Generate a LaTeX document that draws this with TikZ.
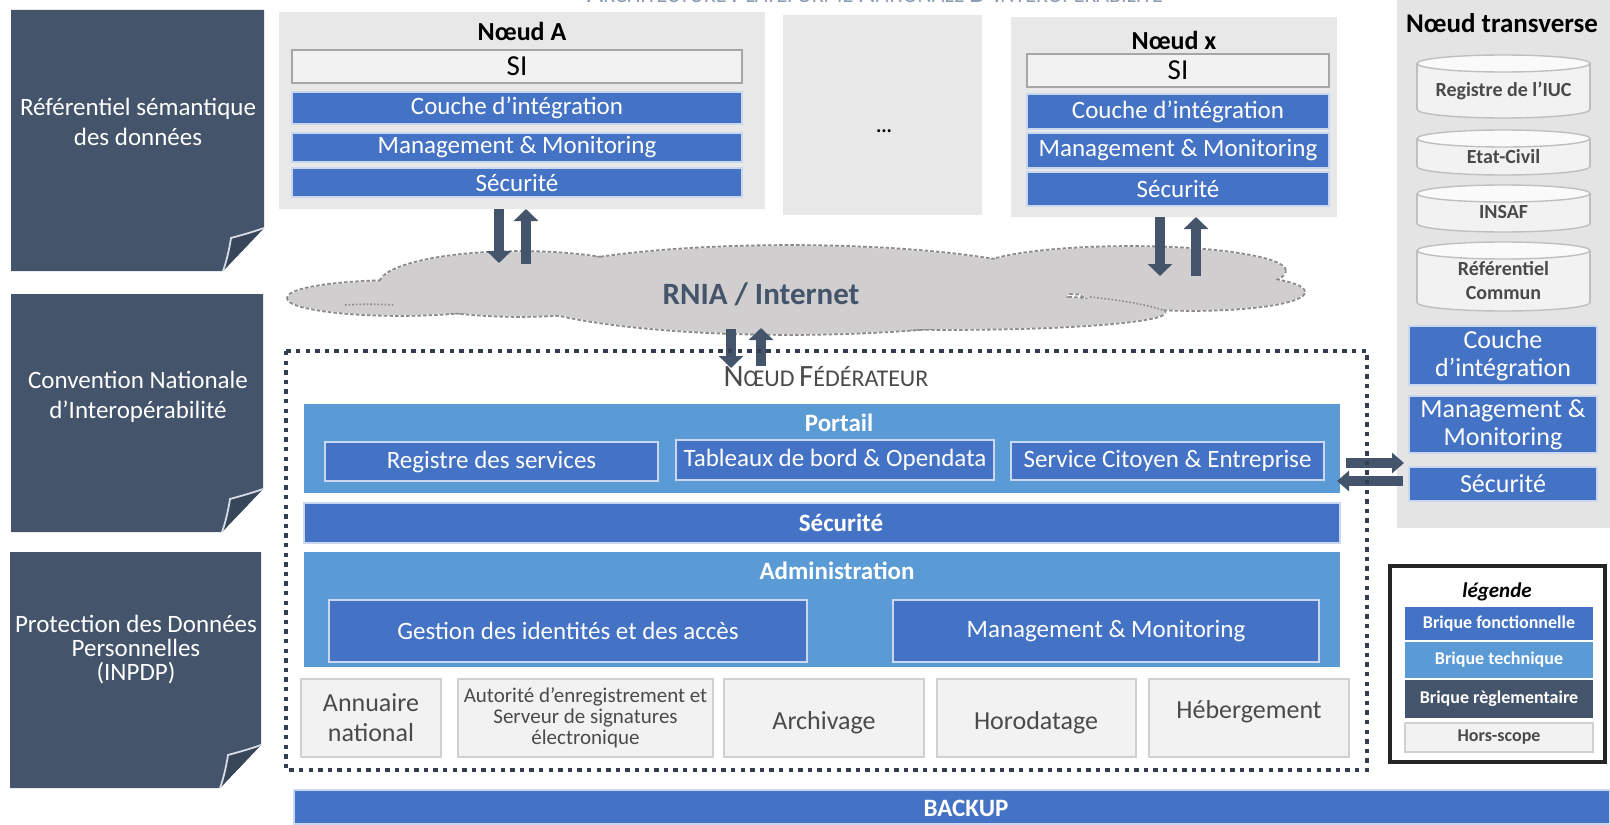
\documentclass[tikz,border=0pt]{standalone}
\usepackage{fontspec}
\setmainfont{Carlito}
\usetikzlibrary{arrows.meta}
\definecolor{cFblue}{HTML}{4472C4}
\definecolor{cTblue}{HTML}{5B9BD5}
\definecolor{cSlate}{HTML}{44546A}
\definecolor{cFold}{HTML}{38465A}
\definecolor{cFoldLine}{HTML}{D5DCE6}
\definecolor{cNgray}{HTML}{E8E8E8}
\definecolor{cTgray}{HTML}{E4E4E4}
\definecolor{cHs}{HTML}{F2F2F2}
\definecolor{cHsLine}{HTML}{D0D0D0}
\definecolor{cSiLine}{HTML}{A6A6A6}
\definecolor{cCloud}{HTML}{D0CECE}
\definecolor{cCloudLine}{HTML}{8A8A8A}
\definecolor{cTxt}{HTML}{4A4A4A}
\definecolor{cArrow}{HTML}{44546A}
\definecolor{cDot}{HTML}{333F50}
\definecolor{cTitle}{HTML}{8C9BB0}
\definecolor{cFline}{HTML}{C9D7F0}
\definecolor{cCyl}{HTML}{BFBFBF}
\newcommand\fs[2]{\fontsize{#1}{#2}\selectfont}
% style, name, x1, y1, x2, y2, text  (pixel coordinates, y downwards)
\newcommand\mkbox[7]{\node[#1, minimum width={(#5-#3)*0.5pt}, minimum height={(#6-#4)*0.5pt}] (#2) at ({(#3+#5)/2},{(#4+#6)/2}) {#7};}
\newcommand\panel[5]{%
  \mkbox{bx}{#1}{#2}{#3}{#4}{#5}{}
  \fill[cSlate] (#1.north west) -- (#1.north east) -- ([yshift=21.5pt]#1.south east)
     -- ([xshift=-20.5pt]#1.south east) -- (#1.south west) -- cycle;
  \filldraw[fill=cFold, draw=cFoldLine, line width=0.9pt]
     ([yshift=21.5pt]#1.south east) .. controls ([xshift=-7pt,yshift=19pt]#1.south east) and ([xshift=-13pt,yshift=17.5pt]#1.south east) .. ([xshift=-16.5pt,yshift=16.5pt]#1.south east)
     .. controls ([xshift=-17.5pt,yshift=10pt]#1.south east) and ([xshift=-19pt,yshift=4pt]#1.south east) .. ([xshift=-20.5pt]#1.south east);
}
\newcommand\cylinder[6]{%
  \mkbox{bx}{#1}{#2}{#3}{#4}{#5}{}
  \filldraw[cylst] ([yshift=4.25pt]#1.south) ellipse [x radius=43.25pt, y radius=4.25pt];
  \fill[cHs] ([yshift=-4.25pt]#1.north west) rectangle ([yshift=4.25pt]#1.south east);
  \draw[cylst] ([yshift=-4.25pt]#1.north west) -- ([yshift=4.25pt]#1.south west)
               ([yshift=-4.25pt]#1.north east) -- ([yshift=4.25pt]#1.south east);
  \filldraw[cylst, fill=white!60!cHs] ([yshift=-4.25pt]#1.north) ellipse [x radius=43.25pt, y radius=4.25pt];
  \node[cyltxt] (#1t) at ([yshift=-2pt]#1.center) {#6};
}
\begin{document}
\begin{tikzpicture}[x=0.5pt,y=-0.5pt,
  bx/.style={inner sep=0pt,outer sep=0pt,align=center},
  func/.style={bx,fill=cFblue,text=white,draw=cFline,line width=0.7pt,font=\fs{12.5}{14.5}},
  tech/.style={bx,fill=cTblue},
  lgray/.style={bx,fill=cNgray},
  sibox/.style={bx,fill=cHs,draw=cSiLine,line width=0.8pt,font=\fs{14.5}{16}},
  hsbox/.style={bx,fill=cHs,draw=cHsLine,line width=0.8pt,text=cTxt,font=\fs{12.5}{14.5}},
  hstxt/.style={text=cTxt,font=\fs{13}{15}},
  ttl/.style={font=\fs{13}{15}\bfseries},
  wtl/.style={text=white,font=\fs{12.5}{15}\bfseries},
  ptxt/.style={text=white,align=center,font=\fs{12.5}{15}},
  blk/.style={draw=cArrow,line width=5pt,-{Triangle[width=12pt,length=6pt]}},
  blkh/.style={draw=cArrow,line width=5pt,-{Triangle[width=10pt,length=6pt]}},
  cloudline/.style={draw=cCloudLine,densely dotted,line width=1.8pt},
  cloudfill/.style={fill=cCloud},
  cylst/.style={fill=cHs,draw=cCyl,line width=0.7pt},
  cyltxt/.style={text=cTxt,align=center,font=\fs{10}{12}\bfseries},
  legi/.style={bx,text=white,font=\fs{9}{10}\bfseries},
]
\useasboundingbox (0,0) rectangle (1610,824);

% top (cut) title
\node[anchor=base, text=cTitle, inner sep=0pt] (title) at (875,3)
  {{\fs{14}{14}A}{\fs{11}{11}RCHITECTURE} {\fs{14}{14}P}{\fs{11}{11}LATEFORME} {\fs{14}{14}N}{\fs{11}{11}ATIONALE} {\fs{14}{14}D’I}{\fs{11}{11}NTEROPÉRABILITÉ}};

% left regulatory panels
\panel{p1}{11}{10}{264}{271}
\node[ptxt] (p1t) at (138,122) {Référentiel sémantique\\des données};
\panel{p2}{11}{294}{263}{532}
\node[ptxt] (p2t) at (138,397) {Convention Nationale\\d’Interopérabilité};
\panel{p3}{10}{552}{261}{788}
\node[ptxt, font=\fs{12.5}{12}] (p3t) at (136,650) {Protection des Données\\Personnelles\\(INPDP)};

% Noeud A
\mkbox{lgray}{nA}{279}{12}{765}{209}{}
\node[ttl] (nAt) at (522,31) {Nœud A};
\mkbox{sibox}{nAsi}{292}{50}{742}{83}{SI}
\mkbox{func}{nAci}{292}{92}{742}{124}{Couche d’intégration}
\mkbox{func}{nAmm}{292}{133}{742}{162}{Management \& Monitoring}
\mkbox{func}{nAsec}{292}{168}{742}{197}{Sécurité}

% dots box
\mkbox{lgray}{nD}{783}{15}{982}{215}{}
\node[font=\fs{10}{10}\bfseries] (nDt) at (884,131) {...};

% Noeud x
\mkbox{lgray}{nX}{1011}{17}{1337}{217}{}
\node[ttl] (nXt) at (1174,40) {Nœud x};
\mkbox{sibox}{nXsi}{1027}{54}{1329}{87}{SI}
\mkbox{func}{nXci}{1027}{94}{1329}{129}{Couche d’intégration}
\mkbox{func}{nXmm}{1027}{133}{1329}{168}{Management \& Monitoring}
\mkbox{func}{nXsec}{1027}{172}{1329}{206}{Sécurité}

% Noeud transverse
\mkbox{bx, fill=cTgray}{nT}{1397}{0}{1610}{528}{}
\node[font=\fs{13.5}{15}\bfseries] (nTt) at (1502,23) {Nœud transverse};
\cylinder{cy1}{1417}{55}{1590}{118}{Registre de l’IUC}
\cylinder{cy2}{1417}{130}{1590}{175}{Etat-Civil}
\cylinder{cy3}{1417}{185}{1590}{232}{INSAF}
\cylinder{cy4}{1417}{242}{1590}{311}{Référentiel\\Commun}
\mkbox{func, font=\fs{13}{14}}{nTci}{1409}{326}{1597}{385}{Couche\\d’intégration}
\mkbox{func, font=\fs{13}{14}}{nTmm}{1409}{396}{1597}{453}{Management \&\\Monitoring}
\mkbox{func, font=\fs{13}{14}}{nTsec}{1409}{467}{1597}{501}{Sécurité}

% cloud: dotted outlines first, fills on top so only the outer contour stays
\foreach \cx/\cy/\rx/\ry in {400/298/56/8.5, 520/284/70/16, 950/312/107.5/8.5, 790/290/140/22, 1130/271/77.5/12, 1192/292/56/9}
  \draw[cloudline] (\cx,\cy) ellipse [x radius=\rx pt, y radius=\ry pt];
\foreach \cx/\cy/\rx/\ry in {400/298/56/8.5, 520/284/70/16, 950/312/107.5/8.5, 790/290/140/22, 1130/271/77.5/12, 1192/292/56/9}
  \fill[cloudfill] (\cx,\cy) ellipse [x radius=\rx pt, y radius=\ry pt];
\draw[draw=cCloudLine, densely dotted, line width=0.8pt] (345,305) .. controls (360,304) and (380,304) .. (395,305);
\draw[draw=cCloudLine, densely dotted, line width=0.8pt] (1090,297) .. controls (1120,300) and (1150,305) .. (1165,311);
\node[text=cSlate, font=\fs{15.5}{17}\bfseries] (cloud) at (761,294) {RNIA / Internet};

% vertical arrows
\coordinate (aAd) at (499,263);
\coordinate (aAu) at (526,264);
\draw[blk] (nA.south -| aAd) -- (aAd);
\draw[blk] (aAu) -- (nA.south -| aAu);
\coordinate (aXd) at (1160,276);
\coordinate (aXu) at (1196,276);
\draw[blk] (nX.south -| aXd) -- (aXd);
\draw[blk] (aXu) -- (nX.south -| aXu);
\coordinate (fd1) at (731,329);
\coordinate (fd2) at (731,368);
\coordinate (fu1) at (761,366);
\coordinate (fu2) at (761,328);
\draw[blk] (fd1) -- (fd2);
\draw[blk] (fu1) -- (fu2);

% federateur
\mkbox{bx}{fed}{286}{351}{1367}{770}{}
\node[text=cTxt] (fedt) at (826,377)
  {{\fs{15.5}{16}N}{\fs{12}{14}ŒUD} {\fs{15.5}{16}F}{\fs{12}{14}ÉDÉRATEUR}};
\mkbox{tech}{port}{304}{404}{1340}{493}{}
\node[wtl] (portt) at (839,423) {Portail};
\mkbox{func}{reg}{325}{442}{658}{481}{Registre des services}
\mkbox{func}{tab}{676}{440}{994}{480}{Tableaux de bord \& Opendata}
\mkbox{func}{svc}{1011}{442}{1324}{480}{Service Citoyen \& Entreprise}
\mkbox{func}{fsec}{304}{503}{1340}{543}{}
\node[wtl] (fsect) at (841,523) {Sécurité};
\mkbox{tech}{adm}{304}{552}{1340}{667}{}
\node[wtl] (admt) at (837,571) {Administration};
\mkbox{func, font=\fs{12.5}{15}}{gia}{329}{600}{807}{662}{Gestion des identités et des accès}
\mkbox{func, font=\fs{12.5}{15}}{amm}{893}{600}{1319}{662}{Management \& Monitoring}
\mkbox{hsbox, font=\fs{13}{15}}{ann}{301}{679}{441}{757}{Annuaire\\national}
\mkbox{hsbox, font=\fs{10.5}{10.5}}{aut}{458}{679}{713}{757}{Autorité d’enregistrement et\\Serveur de signatures\\électronique}
\mkbox{hsbox}{arc}{724}{679}{924}{757}{}
\node[hstxt] (arct) at (824,723) {Archivage};
\mkbox{hsbox}{hor}{937}{679}{1136}{757}{}
\node[hstxt] (hort) at (1036,723) {Horodatage};
\mkbox{hsbox}{heb}{1149}{679}{1349}{757}{}
\node[hstxt] (hebt) at (1249,712) {Hébergement};

% horizontal arrows between federateur and transverse node
\coordinate (hRs) at (1346,463);
\coordinate (hR) at (1404,463);
\coordinate (hLs) at (1403,481);
\coordinate (hL) at (1337,481);
\draw[blkh] (hRs) -- (hR);
\draw[blkh] (hLs) -- (hL);

% dotted frame
\draw[cDot, line width=1.8pt, dash pattern=on 2.2pt off 2.6pt] (fed.north west) rectangle (fed.south east);

% backup
\mkbox{func}{bk}{294}{790}{1610}{824}{}
\node[wtl] (bkt) at (966,808) {BACKUP};

% legend
\mkbox{bx, fill=white, draw=black!85, line width=1.6pt}{leg}{1390}{566}{1605}{762}{}
\node[font=\fs{10.5}{12}\bfseries\itshape] (legt) at (1497,592) {légende};
\mkbox{legi, fill=cFblue}{lf}{1405}{607}{1593}{640}{Brique fonctionnelle}
\mkbox{legi, fill=cTblue}{lt}{1405}{642}{1593}{678}{Brique technique}
\mkbox{legi, fill=cSlate}{lr}{1405}{680}{1593}{718}{Brique règlementaire}
\mkbox{hsbox, font=\fs{9}{10}\bfseries}{lh}{1405}{723}{1593}{752}{Hors-scope}
\end{tikzpicture}
\end{document}
